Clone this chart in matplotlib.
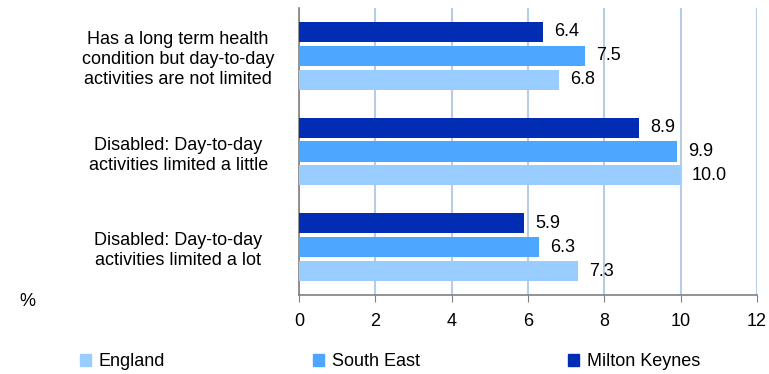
import numpy as np
import matplotlib
matplotlib.use("Agg")
import matplotlib.pyplot as plt
from matplotlib.patches import Patch

plt.rcParams['font.family'] = ['Liberation Sans', 'DejaVu Sans']

categories = ["Has a long term health\ncondition but day-to-day\nactivities are not limited",
              "Disabled: Day-to-day\nactivities limited a little",
              "Disabled: Day-to-day\nactivities limited a lot"]
series = ["England", "South East", "Milton Keynes"]
england = [6.8, 10.0, 7.3]
south_east = [7.5, 9.9, 6.3]
milton_keynes = [6.4, 8.9, 5.9]
colors = ["#99CCFF", "#4DA6FF", "#002DB3"]

fs = 13
fig = plt.figure(figsize=(7.69, 3.74), dpi=100)
ax = fig.add_axes([299 / 769, 1 - 295 / 374, 458 / 769, 287 / 374])

pos = np.arange(len(categories))[::-1] + 0.5
h = 0.21
step = 0.25
for i, (vals, col) in enumerate(zip([england, south_east, milton_keynes], colors)):
    y = pos + (i - 1) * step
    ax.barh(y, vals, height=h, color=col, zorder=3)
    for yy, v in zip(y, vals):
        ax.annotate("%.1f" % v, (v, yy), xytext=(8, 0), textcoords='offset points',
                    va='center', ha='left', fontsize=fs)

ax.set_xlim(0, 12)
ax.set_ylim(0, 3)
ax.set_xticks(range(0, 13, 2))
ax.grid(axis='x', color='#B8CCE4', lw=1.5, zorder=0)
ax.set_yticks(pos)
ax.set_yticklabels(categories, fontsize=fs, multialignment='center', linespacing=1.25)
for lbl in ax.get_yticklabels():
    lbl.set_ha('center')
ax.tick_params(axis='y', length=0, pad=87)
ax.tick_params(axis='x', length=5, color='#808080', labelsize=fs, pad=8)
for s in ['top', 'right']:
    ax.spines[s].set_visible(False)
for s in ['left', 'bottom']:
    ax.spines[s].set_color('#808080')
    ax.spines[s].set_linewidth(1.2)

fig.text(19 / 769, 1 - 301 / 374, "%", fontsize=fs, ha='left', va='center')

handles = [Patch(color=c) for c in colors]
fig.legend(handles, series, loc='center left', bbox_to_anchor=(80 / 769, 1 - 362 / 374),
           ncol=3, frameon=False, fontsize=fs, handlelength=0.6, handleheight=0.6,
           handletextpad=0.45, columnspacing=8.2, borderpad=0, borderaxespad=0)

fig.savefig("out.png", dpi=100)
